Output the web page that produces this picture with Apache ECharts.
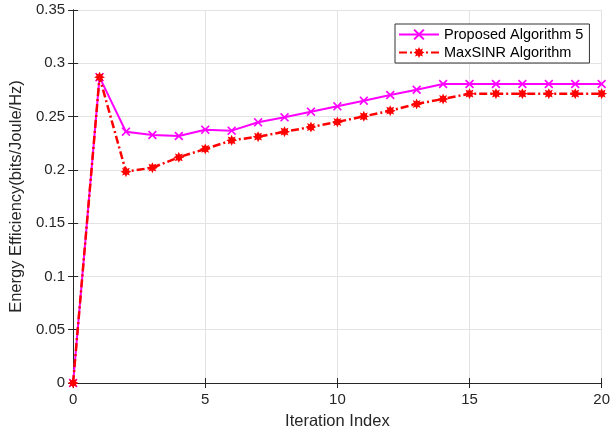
<!DOCTYPE html>
<html><head><meta charset="utf-8">
<script src="https://cdn.jsdelivr.net/npm/echarts@6/dist/echarts.min.js"></script>
<style>html,body{margin:0;padding:0;background:#fff}#c{width:613px;height:435px}</style>
</head><body><div id="c"></div>
<script>
const iterations = [0,1,2,3,4,5,6,7,8,9,10,11,12,13,14,15,16,17,18,19,20];
const proposed = [0,0.287,0.2358,0.2327,0.2318,0.2377,0.2368,0.2446,0.2493,0.2546,0.2596,0.2649,0.2702,0.2752,0.2806,0.2806,0.2806,0.2806,0.2806,0.2806,0.2806];
const maxsinr = [0,0.287,0.1983,0.2020,0.2118,0.2196,0.2277,0.2311,0.2358,0.2402,0.2449,0.2502,0.2555,0.2618,0.2665,0.2715,0.2715,0.2715,0.2715,0.2715,0.2715];
const seriesNames = ['Proposed Algorithm 5','MaxSINR Algorithm'];
const xTitle = 'Iteration Index';
const yTitle = 'Energy Efficiency(bits/Joule/Hz)';

const crossSym = 'path://M0,1.3L1.3,0L5,3.7L8.7,0L10,1.3L6.3,5L10,8.7L8.7,10L5,6.3L1.3,10L0,8.7L3.7,5Z';
const starSym = 'path://M10,5L7.6,6.1L8.54,8.54L6.1,7.6L5,10L3.9,7.6L1.46,8.54L2.4,6.1L0,5L2.4,3.9L1.46,1.46L3.9,2.4L5,0L6.1,2.4L8.54,1.46L7.6,3.9Z';
const font = 'Liberation Sans, Arial, sans-serif';
const axisColor = '#262626';
const chart = echarts.init(document.getElementById('c'));
const hiddenAxis = {
  axisLine:{show:true,lineStyle:{color:axisColor,width:1}},
  axisTick:{show:true,inside:true,length:5,lineStyle:{color:axisColor}},
  axisLabel:{show:false}, splitLine:{show:false}
};
chart.setOption({
  animation:false,
  backgroundColor:'#fff',
  grid:{left:70,right:8,top:10,bottom:52,containLabel:false},
  legend:{
    left:395, top:24, orient:'vertical',
    backgroundColor:'#fff', borderColor:'#333', borderWidth:1,
    padding:[3,6,3,3], itemGap:3, itemWidth:40, itemHeight:14,
    textStyle:{fontFamily:font,fontSize:14.5,color:'#000'},
    data:seriesNames
  },
  xAxis:[{
    type:'value', min:0, max:20, interval:5,
    axisLine:{show:true,onZero:false,lineStyle:{color:axisColor,width:1}},
    axisTick:{show:true,inside:true,length:5,lineStyle:{color:axisColor}},
    axisLabel:{fontFamily:font,fontSize:15,color:'#262626',margin:9},
    splitLine:{show:true,lineStyle:{color:'#e3e3e3',width:1}},
    name:xTitle, nameLocation:'middle', nameGap:30,
    nameTextStyle:{fontFamily:font,fontSize:16.5,color:'#262626'}
  },Object.assign({type:'value',min:0,max:20,interval:5,position:'top'},hiddenAxis)],
  yAxis:[{
    type:'value', min:0, max:0.35, interval:0.05,
    axisLine:{show:true,onZero:false,lineStyle:{color:axisColor,width:1}},
    axisTick:{show:true,inside:true,length:5,lineStyle:{color:axisColor}},
    axisLabel:{fontFamily:font,fontSize:15,color:'#262626',margin:8},
    splitLine:{show:true,lineStyle:{color:'#e3e3e3',width:1}},
    name:yTitle, nameLocation:'middle', nameGap:44,
    nameTextStyle:{fontFamily:font,fontSize:16.5,color:'#262626'}
  },Object.assign({type:'value',min:0,max:0.35,interval:0.05,position:'right'},hiddenAxis)],
  series:[{
    name:seriesNames[0], type:'line',
    data:iterations.map((x,i)=>[x,proposed[i]]),
    symbol:crossSym, symbolSize:9,
    itemStyle:{color:'#ff00ff'},
    lineStyle:{color:'#ff00ff',width:2},
    z:2
  },{
    name:seriesNames[1], type:'line',
    data:iterations.map((x,i)=>[x,maxsinr[i]]),
    symbol:starSym, symbolSize:11,
    itemStyle:{color:'#ff0000'},
    lineStyle:{color:'#ff0000',width:2.5,type:[8,3,2,3]},
    z:3
  }]
});
</script></body></html>
